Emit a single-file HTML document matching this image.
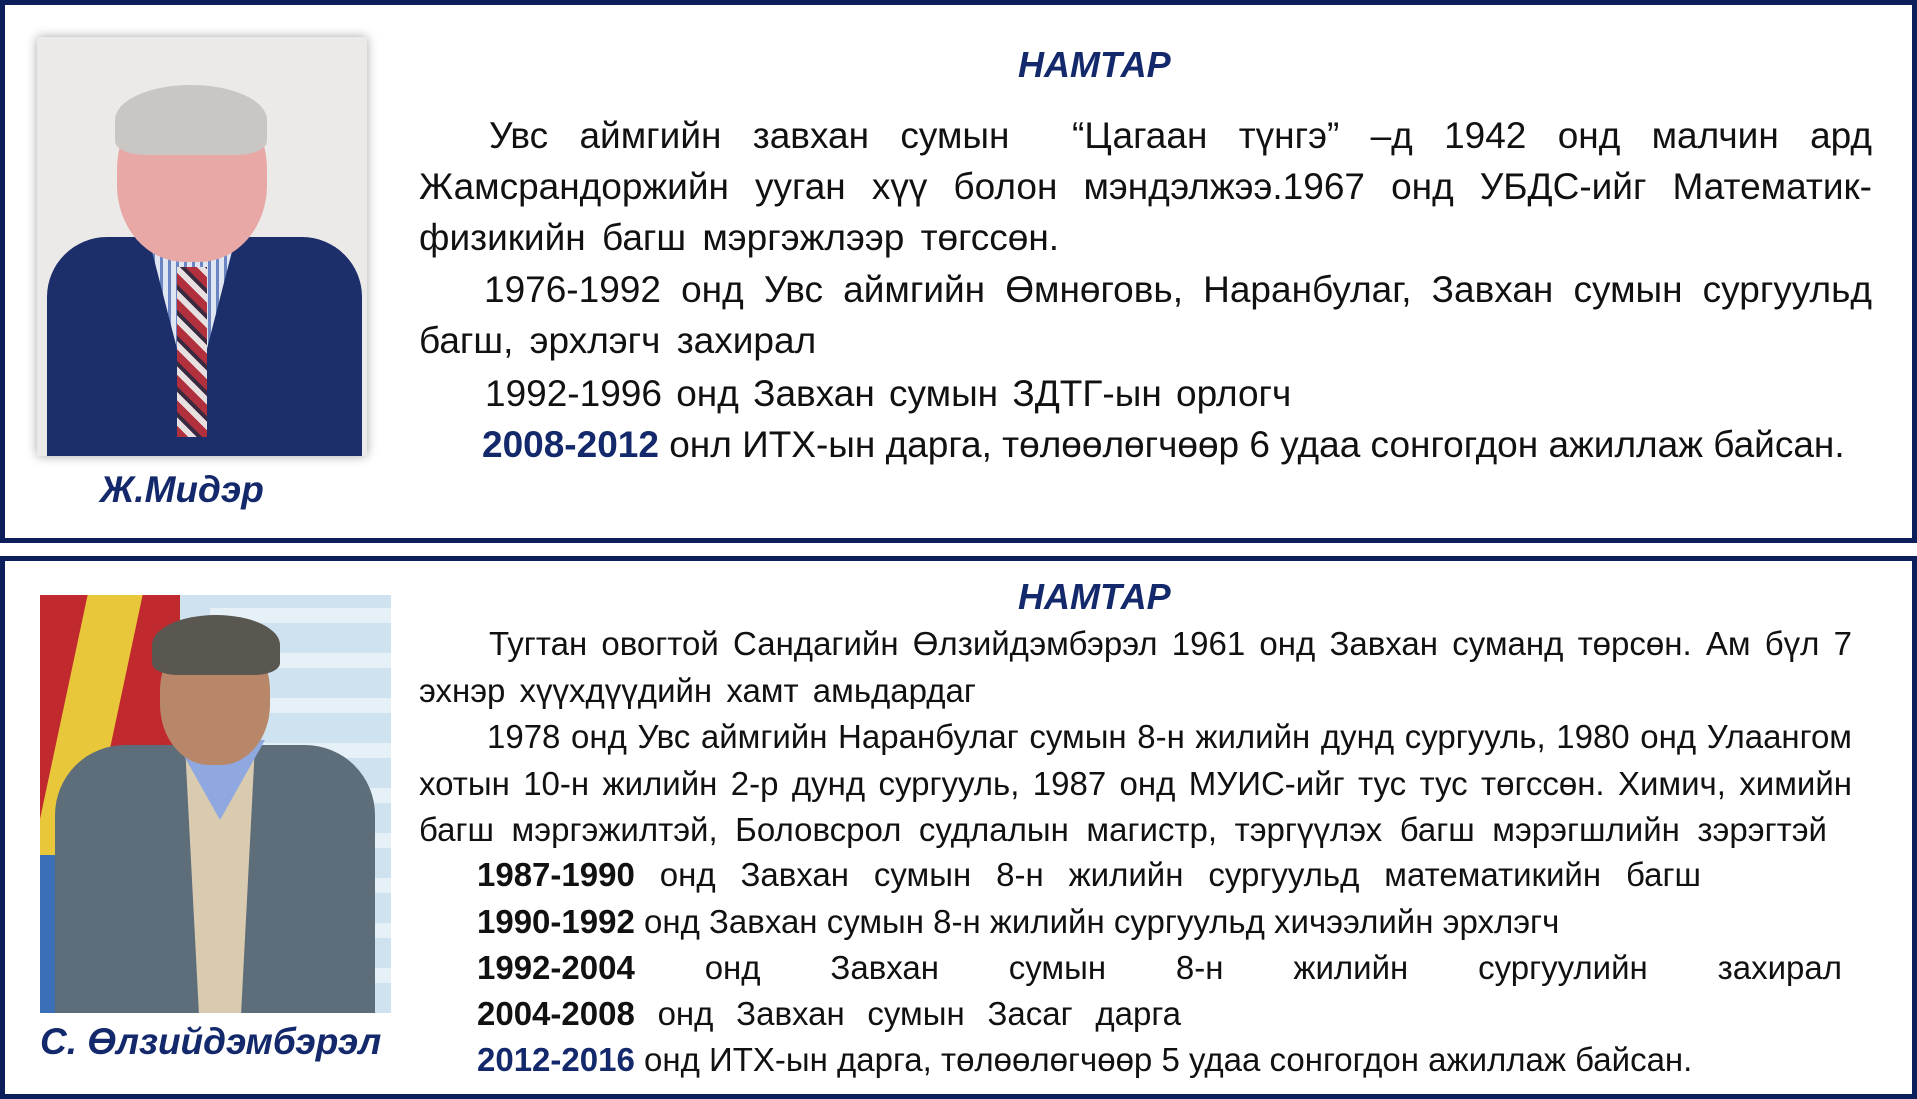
<!DOCTYPE html>
<html><head><meta charset="utf-8"><style>
body{margin:0;width:1917px;height:1099px;background:#fff;position:relative;overflow:hidden;font-family:"Liberation Sans",sans-serif;}
.box{position:absolute;border:5px solid #0d1f5a;box-sizing:border-box;}
.t{position:absolute;color:#111;white-space:nowrap;}
.j{text-align:justify;text-align-last:justify;white-space:normal;}
.a .t{font-size:37px;line-height:42px;}
.b .t{font-size:33px;line-height:38px;}
.blue{color:#14296b;font-weight:bold;}
b{font-weight:bold;}
.title{position:absolute;font-weight:bold;font-style:italic;color:#14296b;font-size:36px;line-height:40px;}
.name{position:absolute;font-weight:bold;font-style:italic;color:#14296b;font-size:37px;line-height:40px;white-space:nowrap;}
</style></head><body>
<div class="box" style="left:0;top:0;width:1917px;height:543px;"></div>
<div class="box" style="left:0;top:556px;width:1917px;height:543px;"></div>

<!-- photo 1 -->
<div style="position:absolute;left:37px;top:37px;width:330px;height:419px;background:#eceae8;box-shadow:0 0 10px rgba(0,0,0,.35);overflow:hidden;">
  <div style="position:absolute;left:10px;top:200px;width:315px;height:230px;background:#1d2f6b;border-radius:60px 60px 0 0;"></div>
  <div style="position:absolute;left:110px;top:195px;width:90px;height:140px;background:repeating-linear-gradient(90deg,#dfe6f2 0 5px,#6b86c2 5px 8px);clip-path:polygon(0 0,100% 0,60% 100%,40% 100%);"></div>
  <div style="position:absolute;left:140px;top:230px;width:30px;height:170px;background:repeating-linear-gradient(45deg,#b0313d 0 8px,#e8e0e0 8px 14px,#3a2a40 14px 18px);"></div>
  <div style="position:absolute;left:80px;top:55px;width:150px;height:170px;background:#e8a9a6;border-radius:45% 45% 45% 45%;"></div>
  <div style="position:absolute;left:78px;top:48px;width:152px;height:70px;background:#c9c6c4;border-radius:50% 50% 20% 20%;"></div>
</div>
<div class="name" style="left:100px;top:470px;">Ж.Мидэр</div>

<div class="title" style="left:1018px;top:45px;">НАМТАР</div>
<div class="a">
<div class="t j" style="left:489px;width:1383px;top:115px;">Увс аймгийн завхан сумын &nbsp;“Цагаан түнгэ” –д 1942 онд малчин ард</div>
<div class="t j" style="left:419px;width:1453px;top:166px;">Жамсрандоржийн ууган хүү болон мэндэлжээ.1967 онд УБДС-ийг Математик-</div>
<div class="t" style="left:419px;top:217px;word-spacing:6px;">физикийн багш мэргэжлээр төгссөн.</div>
<div class="t j" style="left:484px;width:1388px;top:269px;">1976-1992 онд Увс аймгийн Өмнөговь, Наранбулаг, Завхан сумын сургуульд</div>
<div class="t" style="left:419px;top:320px;word-spacing:6px;">багш, эрхлэгч захирал</div>
<div class="t" style="left:485px;top:373px;word-spacing:4px;">1992-1996 онд Завхан сумын ЗДТГ-ын орлогч</div>
<div class="t" style="left:482px;top:424px;"><span class="blue">2008-2012</span> онл ИТХ-ын дарга, төлөөлөгчөөр 6 удаа сонгогдон ажиллаж байсан.</div>
</div>

<!-- photo 2 -->
<div style="position:absolute;left:40px;top:595px;width:351px;height:418px;background:#cfe2ef;overflow:hidden;">
  <div style="position:absolute;left:170px;top:0;width:181px;height:418px;background:repeating-linear-gradient(0deg,#cfe2ef 0 30px,#e6f0f7 30px 45px);"></div>
  <div style="position:absolute;left:0;top:0;width:140px;height:418px;background:linear-gradient(180deg,#c02a2e 0 60%,#3b6fb8 60% 100%);"></div>
  <div style="position:absolute;left:20px;top:0;width:55px;height:260px;background:#e9c73b;transform:skewX(-12deg);"></div>
  <div style="position:absolute;left:15px;top:150px;width:320px;height:290px;background:#5e6d7a;border-radius:70px 70px 0 0;"></div>
  <div style="position:absolute;left:145px;top:150px;width:70px;height:270px;background:#d9cbb0;clip-path:polygon(0 0,100% 0,80% 100%,20% 100%);"></div>
  <div style="position:absolute;left:135px;top:145px;width:90px;height:80px;background:#8fa8e0;clip-path:polygon(0 0,100% 0,50% 100%);"></div>
  <div style="position:absolute;left:120px;top:35px;width:110px;height:135px;background:#b8876a;border-radius:45%;"></div>
  <div style="position:absolute;left:112px;top:20px;width:128px;height:60px;background:#5a5650;border-radius:50% 50% 20% 20%;"></div>
</div>
<div class="name" style="left:40px;top:1022px;">С. Өлзийдэмбэрэл</div>

<div class="title" style="left:1018px;top:577px;">НАМТАР</div>
<div class="b">
<div class="t j" style="left:489px;width:1363px;top:625px;">Тугтан овогтой Сандагийн Өлзийдэмбэрэл 1961 онд Завхан суманд төрсөн. Ам бүл 7</div>
<div class="t" style="left:419px;top:672px;word-spacing:5px;">эхнэр хүүхдүүдийн хамт амьдардаг</div>
<div class="t j" style="left:487px;width:1365px;top:718px;">1978 онд Увс аймгийн Наранбулаг сумын 8-н жилийн дунд сургууль, 1980 онд Улаангом</div>
<div class="t j" style="left:419px;width:1433px;top:765px;">хотын 10-н жилийн 2-р дунд сургууль, 1987 онд МУИС-ийг тус тус төгссөн. Химич, химийн</div>
<div class="t j" style="left:419px;width:1408px;top:811px;">багш мэргэжилтэй, Боловсрол судлалын магистр, тэргүүлэх багш мэрэгшлийн зэрэгтэй</div>
<div class="t j" style="left:477px;width:1224px;top:856px;"><b>1987-1990</b> онд Завхан сумын 8-н жилийн сургуульд математикийн багш</div>
<div class="t" style="left:477px;top:903px;"><b>1990-1992</b> онд Завхан сумын 8-н жилийн сургуульд хичээлийн эрхлэгч</div>
<div class="t j" style="left:477px;width:1365px;top:949px;"><b>1992-2004</b> онд Завхан сумын 8-н жилийн сургуулийн захирал</div>
<div class="t j" style="left:477px;width:704px;top:995px;"><b>2004-2008</b> онд Завхан сумын Засаг дарга</div>
<div class="t" style="left:477px;top:1041px;"><span class="blue">2012-2016</span> онд ИТХ-ын дарга, төлөөлөгчөөр 5 удаа сонгогдон ажиллаж байсан.</div>
</div>
</body></html>
